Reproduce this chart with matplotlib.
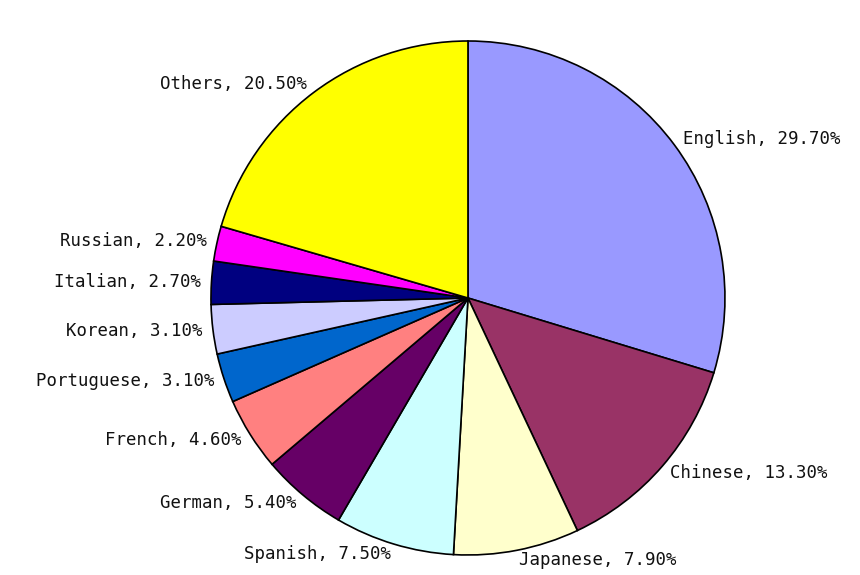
import matplotlib
matplotlib.use("Agg")
import matplotlib.pyplot as plt

languages = ["English", "Chinese", "Japanese", "Spanish", "German", "French",
             "Portuguese", "Korean", "Italian", "Russian", "Others"]
shares = [29.7, 13.3, 7.9, 7.5, 5.4, 4.6, 3.1, 3.1, 2.7, 2.2, 20.5]
colors = ["#9999FF", "#993366", "#FFFFCC", "#CCFFFF", "#660066", "#FF8080",
          "#0066CC", "#CCCCFF", "#000080", "#FF00FF", "#FFFF00"]
labels = [f"{l}, {v:.2f}%" for l, v in zip(languages, shares)]

fig = plt.figure(figsize=(8.6, 5.75), dpi=100)
ax = fig.add_axes([0.2453, 0.0348, 0.5977, 0.8939])
wedges, texts = ax.pie(shares, labels=labels, colors=colors, startangle=90,
                       counterclock=False, labeldistance=1.04,
                       wedgeprops=dict(edgecolor="black", linewidth=1.2),
                       textprops=dict(fontsize=12.5, family="DejaVu Sans Mono",
                                      color="#111111"))
ax.set_xlim(-1, 1)
ax.set_ylim(-1, 1)
ax.set_aspect("equal")
fig.savefig("out.png", dpi=100, facecolor="white")
